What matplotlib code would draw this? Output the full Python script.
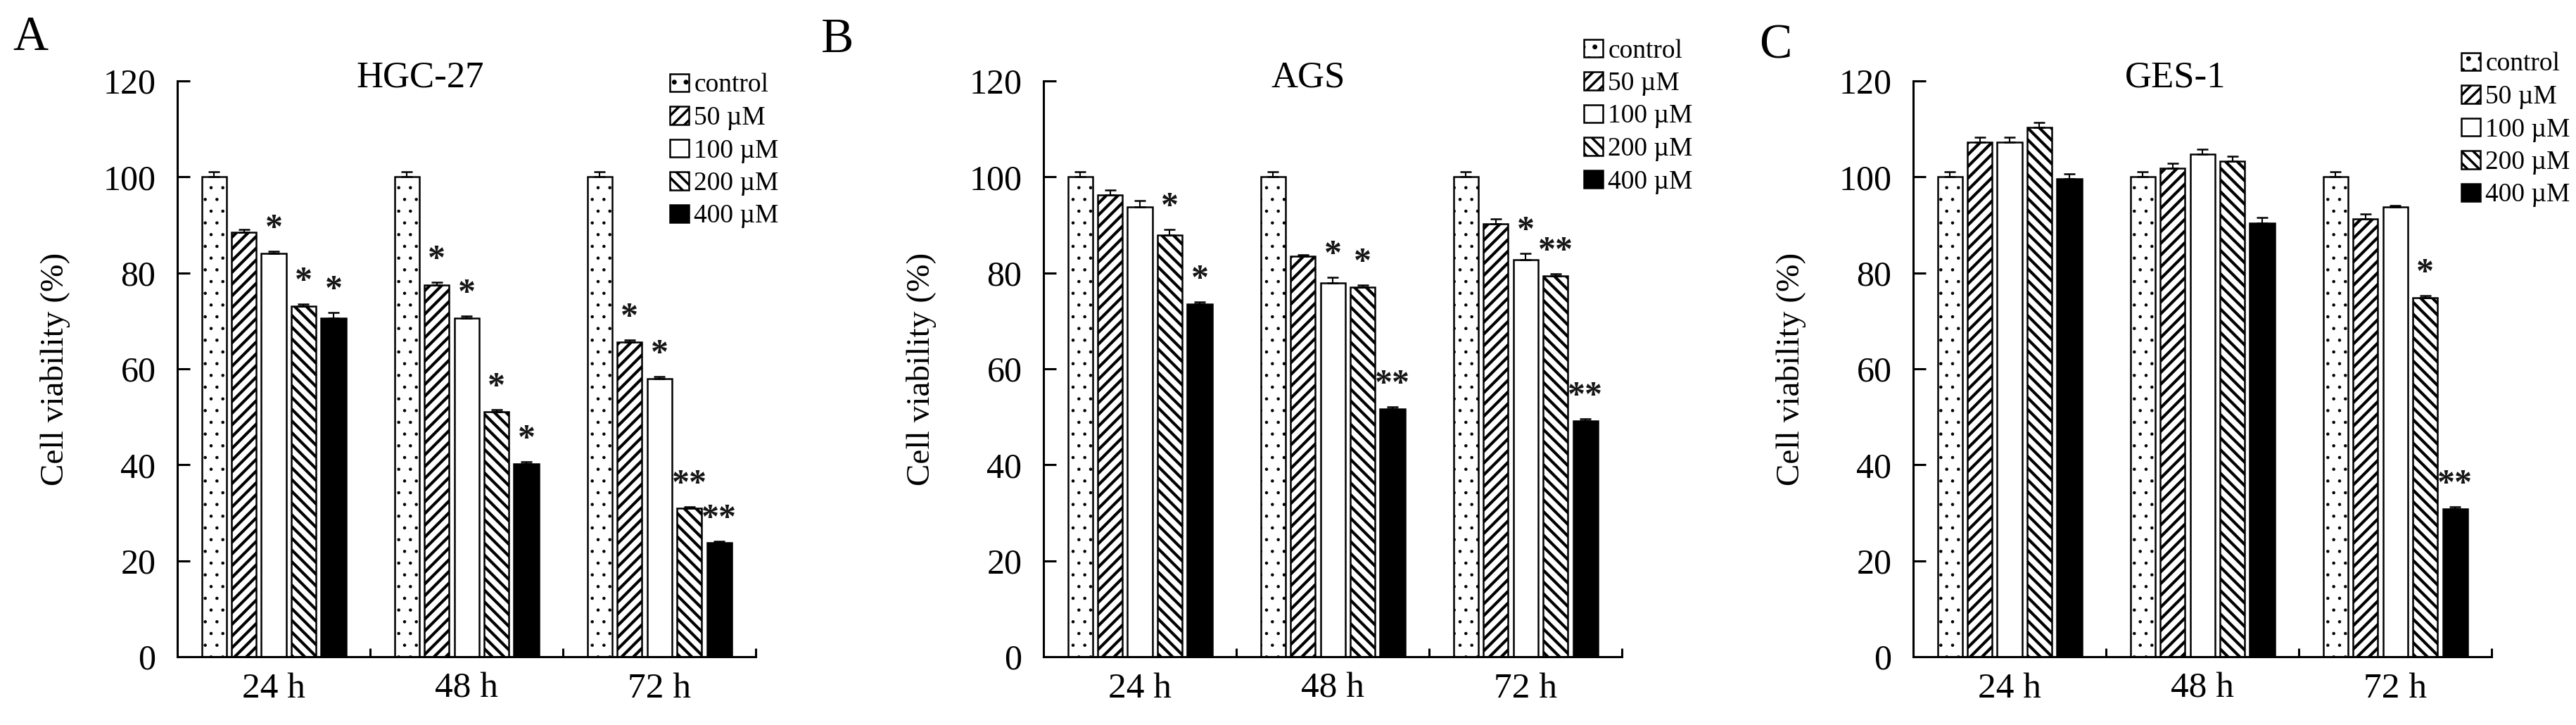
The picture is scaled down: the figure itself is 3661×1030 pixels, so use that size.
import matplotlib.pyplot as plt
from matplotlib.patches import Patch
import numpy as np

plt.rcParams['font.family'] = ['Liberation Serif', 'DejaVu Serif']

# data
times = ['24 h', '48 h', '72 h']
doses = ['control', '50 µM', '100 µM', '200 µM', '400 µM']

hgc27_vals = [[100, 88.5, 84.0, 73.0, 70.5],
              [100, 77.5, 70.5, 51.0, 40.2],
              [100, 65.5, 58.0, 31.0, 23.8]]
hgc27_err = [[1.0, 0.5, 0.5, 0.5, 1.2],
             [1.0, 0.5, 0.5, 0.5, 0.4],
             [1.0, 0.5, 0.4, 0.3, 0.3]]
hgc27_stars = [['', '', '*', '*', '*'],
               ['', '*', '*', '*', '*'],
               ['', '*', '*', '**', '**']]

ags_vals = [[100, 96.2, 93.8, 87.9, 73.5],
            [100, 83.4, 77.9, 77.0, 51.6],
            [100, 90.2, 82.8, 79.4, 49.2]]
ags_err = [[1.0, 1.0, 1.2, 1.2, 0.4],
           [1.0, 0.4, 1.2, 0.5, 0.5],
           [1.0, 1.0, 1.2, 0.4, 0.4]]
ags_stars = [['', '', '', '*', '*'],
             ['', '', '*', '*', '**'],
             ['', '', '*', '**', '**']]

ges1_vals = [[100, 107.3, 107.3, 110.3, 99.6],
             [100, 101.8, 104.8, 103.3, 90.3],
             [100, 91.3, 93.7, 74.8, 30.8]]
ges1_err = [[1.0, 1.0, 1.0, 1.0, 1.1],
            [1.0, 1.0, 1.0, 1.0, 1.2],
            [1.0, 1.0, 0.4, 0.4, 0.4]]
ges1_stars = [['', '', '', '', ''],
              ['', '', '', '', ''],
              ['', '', '', '*', '**']]

hatches = ['.', '//', '', '\\\\', '']
hatch_lw = [0.8, 3.0, 3.0, 3.0, 3.0]
fills = ['white', 'white', 'white', 'white', 'black']

fig = plt.figure(figsize=(36.62, 10.30), dpi=100)

bar_w = 0.128
step = 0.155


def draw_panel(left, vals, errs, stars, title, title_x, letter, letter_xy, leg_xy):
    ax = fig.add_axes([left, 0.0942, 0.2245, 0.7942])
    vals = np.array(vals)
    errs = np.array(errs)
    x = np.arange(len(times))
    for j in range(len(doses)):
        xs = x + (j - 2) * step
        with plt.rc_context({'hatch.linewidth': hatch_lw[j]}):
            bars = ax.bar(xs, vals[:, j], bar_w, color=fills[j], edgecolor='black',
                          hatch=hatches[j], linewidth=1.8, label=doses[j], zorder=2)
        for b in bars:
            if hasattr(b, 'set_hatch_linewidth'):
                b.set_hatch_linewidth(hatch_lw[j])
        ax.errorbar(xs, vals[:, j], yerr=[np.zeros(3), errs[:, j]], fmt='none',
                    ecolor='black', elinewidth=1.5, capsize=5.5, capthick=1.8, zorder=3)
        for i in range(len(times)):
            if stars[i][j]:
                ax.text(xs[i], vals[i, j] + errs[i, j] + 2.8, stars[i][j], ha='center',
                        va='baseline', fontsize=36, fontweight='bold', color='#151515')

    ax.set_xlim(-0.5, 2.5)
    ax.set_ylim(0, 120)
    ax.set_yticks(range(0, 121, 20))
    ax.set_xticks(x)
    ax.set_xticklabels(times)
    ax.set_xticks([0.5, 1.5, 2.5], minor=True)
    for s in ['top', 'right']:
        ax.spines[s].set_visible(False)
    for s in ['left', 'bottom']:
        ax.spines[s].set_linewidth(2.2)
    ax.tick_params(axis='y', direction='in', length=13, width=2.2, pad=22, labelsize=36)
    ax.tick_params(axis='x', which='major', length=0, pad=16, labelsize=37)
    ax.tick_params(axis='x', which='minor', direction='in', length=9, width=2.2)
    ax.set_ylabel('Cell viability (%)', fontsize=34)
    ax.yaxis.set_label_coords(-0.185, 0.5)
    ax.text(title_x, 1.006, title, transform=ax.transAxes, ha='center', va='center', fontsize=38)
    fig.text(letter_xy[0] / 3662, 1 - letter_xy[1] / 1030, letter, ha='center',
             va='center', fontsize=50)

    handles = []
    for j in range(len(doses)):
        with plt.rc_context({'hatch.linewidth': hatch_lw[j]}):
            p = Patch(facecolor=fills[j], edgecolor='black', hatch=hatches[j],
                      linewidth=1.8, label=doses[j])
        handles.append(p)
    with plt.rc_context({'hatch.linewidth': 2.5}):
        ax.legend(handles=handles, loc='upper left',
                  bbox_to_anchor=(leg_xy[0] / 3662, 1 - leg_xy[1] / 1030),
                  bbox_transform=fig.transFigure, frameon=False, fontsize=27,
                  borderpad=0, borderaxespad=0, handlelength=0.72, handleheight=0.67,
                  handletextpad=0.2, labelspacing=0.32)
    return ax


draw_panel(252 / 3662, hgc27_vals, hgc27_err, hgc27_stars, 'HGC-27', 0.42, 'A', (43, 54), (952, 104))
draw_panel(1483 / 3662, ags_vals, ags_err, ags_stars, 'AGS', 0.457, 'B', (1190, 57), (2251, 55))
draw_panel(2719 / 3662, ges1_vals, ges1_err, ges1_stars, 'GES-1', 0.453, 'C', (2523, 66), (3498, 74))

fig.savefig('out.png', dpi=100)
